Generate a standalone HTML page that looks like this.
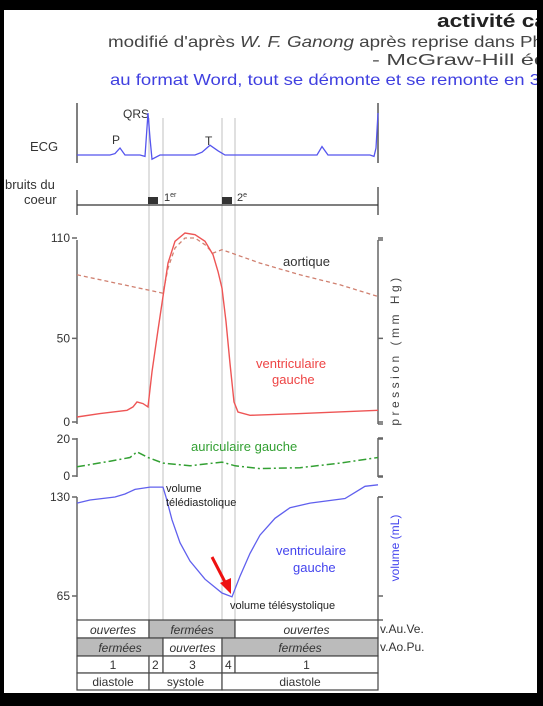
<!DOCTYPE html>
<html><head><meta charset="utf-8"><style>
html,body{margin:0;padding:0;background:#000;}
svg{display:block;}
text{font-family:"Liberation Sans",sans-serif;}
</style></head><body>
<svg id="chart" width="543" height="706" viewBox="0 0 543 706">
<rect x="4" y="10" width="533" height="683" fill="#fff"/>
<text x="437" y="27" font-size="18" font-weight="bold" fill="#222" textLength="110" lengthAdjust="spacingAndGlyphs">activité ca</text>
<text x="108" y="47" font-size="16" fill="#444" textLength="435" lengthAdjust="spacingAndGlyphs">modifié d'après <tspan font-style="italic">W. F. Ganong</tspan> après reprise  dans Ph</text>
<text x="372" y="65" font-size="16" fill="#444" textLength="175" lengthAdjust="spacingAndGlyphs">- McGraw-Hill éd</text>
<text x="110" y="85" font-size="16" fill="#4040e0" textLength="430" lengthAdjust="spacingAndGlyphs">au format Word, tout se démonte et se remonte en 3</text>

<g stroke="#ccc" stroke-width="1.2">
<line x1="149" y1="118" x2="149" y2="690"/><line x1="163" y1="118" x2="163" y2="690"/>
<line x1="222" y1="118" x2="222" y2="690"/><line x1="235" y1="118" x2="235" y2="690"/>
</g>

<text x="30" y="151" font-size="13" fill="#333">ECG</text>
<line x1="77" y1="103" x2="77" y2="163" stroke="#555" stroke-width="1.5"/>
<line x1="378" y1="103" x2="378" y2="163" stroke="#555" stroke-width="1.5"/>
<text x="112" y="144" font-size="12" fill="#333">P</text>
<text x="123" y="118" font-size="12" fill="#333">QRS</text>
<text x="205" y="145" font-size="12" fill="#333">T</text>
<path id="ecg" fill="none" stroke="#5555ee" stroke-width="1.3"/>

<text x="5" y="189" font-size="13" fill="#333">bruits du</text>
<text x="24" y="204" font-size="13" fill="#333">coeur</text>
<line x1="77" y1="205" x2="378" y2="205" stroke="#333" stroke-width="1.2"/>
<line x1="77" y1="190" x2="77" y2="215" stroke="#333" stroke-width="1.2"/>
<line x1="378" y1="187" x2="378" y2="215" stroke="#333" stroke-width="1.2"/>
<rect x="148" y="197" width="10" height="7" fill="#333"/>
<rect x="222" y="197" width="10" height="7" fill="#333"/>
<text x="164" y="201" font-size="11" fill="#333">1<tspan font-size="7" dy="-4">er</tspan></text>
<text x="237" y="201" font-size="11" fill="#333">2<tspan font-size="7" dy="-4">e</tspan></text>

<g id="axes" stroke="#666" stroke-width="1.5" fill="none"></g>
<g id="ticklabels" font-size="12" fill="#333" text-anchor="end"></g>

<path id="aorta" fill="none" stroke="#d08070" stroke-width="1.3" stroke-dasharray="4,3"/>
<path id="lv" fill="none" stroke="#ee5555" stroke-width="1.4"/>
<path id="la" fill="none" stroke="#33a033" stroke-width="1.5" stroke-dasharray="8,3,2,3"/>
<path id="vol" fill="none" stroke="#6060ee" stroke-width="1.3"/>

<text x="283" y="266" font-size="13" fill="#333">aortique</text>
<text x="256" y="368" font-size="13" fill="#ee4444">ventriculaire</text>
<text x="272" y="384" font-size="13" fill="#ee4444">gauche</text>
<text x="191" y="451" font-size="13" fill="#33a033">auriculaire gauche</text>
<text x="166" y="492" font-size="11" fill="#222">volume</text>
<text x="166" y="506" font-size="11" fill="#222">télédiastolique</text>
<text x="276" y="555" font-size="13" fill="#4444ee">ventriculaire</text>
<text x="293" y="572" font-size="13" fill="#4444ee">gauche</text>
<text x="230" y="609" font-size="11" fill="#222">volume télésystolique</text>
<line x1="212" y1="557" x2="226" y2="584" stroke="#ee1111" stroke-width="3"/>
<polygon points="231,594 220,583 231,578" fill="#ee1111"/>

<text transform="translate(399,350) rotate(-90)" font-size="12" letter-spacing="3.5" fill="#444" text-anchor="middle">pression (mm Hg)</text>
<text transform="translate(399,548) rotate(-90)" font-size="12" fill="#4444ee" text-anchor="middle">volume (mL)</text>

<g id="table" font-size="12" fill="#333"></g>
<text x="380" y="633" font-size="12" fill="#333">v.Au.Ve.</text>
<text x="380" y="651" font-size="12" fill="#333">v.Ao.Pu.</text>

<g fill="#000">
<rect x="0" y="0" width="543" height="10"/><rect x="0" y="0" width="4" height="706"/>
<rect x="537" y="0" width="6" height="706"/><rect x="0" y="693" width="543" height="13"/>
</g>
</svg>
<script>
const ecgT = [77,110,115,120,125,140,145,148,150,152,160,195,202,210,218,225,310,317,322,328,370,374,376,378];
const ecgV = [0,0,1,5,0,0,-1,30,12,-3,0,0,2,7,3,0,0,0,6,0,0,-1,5,30];
const lvT = [77,100,127,133,137,143,148,152,158,163,168,175,185,195,205,213,218,222,226,230,234,238,250,300,378];
const lvP = [3,5,7,9,12,11,9,30,55,75,95,108,113,112,108,100,90,80,60,35,12,6,4,5,7];
const aoT = [77,163,168,175,185,195,205,213,222,260,300,340,378];
const aoP = [88,77,92,104,110,110,106,101,103,95,88,82,75];
const laT = [77,110,130,137,148,163,190,222,235,260,300,340,378];
const laP = [5,8,10,13,10,7,5.5,7.5,5.5,4,4.5,7,10];
const volT = [77,90,115,125,135,150,163,166,172,180,190,205,222,232,240,250,260,275,290,310,345,355,365,378];
const volV = [126,128,130,132,135,136.5,136.5,130,115,100,88,76,67,64.5,78,93,105,116,123,126,129,133,137,138];
const pTicks = [0,50,110], aTicks=[0,20], vTicks=[65,130];

const S='http://www.w3.org/2000/svg';
const yP=v=>422-v*(184/110), yA=v=>476-v*(37/20), yV=v=>497+(130-v)*(99/65), yE=v=>155-v*1.4;
function path(id,xs,ys,f){document.getElementById(id).setAttribute('d',xs.map((x,i)=>(i?'L':'M')+x+','+f(ys[i]).toFixed(1)).join(' '));}
path('ecg',ecgT,ecgV,yE);path('lv',lvT,lvP,yP);path('aorta',aoT,aoP,yP);path('la',laT,laP,yA);path('vol',volT,volV,yV);

const ax=document.getElementById('axes'), tl=document.getElementById('ticklabels');
function ln(g,x1,y1,x2,y2){const l=document.createElementNS(S,'line');l.setAttribute('x1',x1);l.setAttribute('y1',y1);l.setAttribute('x2',x2);l.setAttribute('y2',y2);g.appendChild(l);return l;}
function axis(ticks,f,top,bot,name){
 const l=ln(ax,77,top,77,bot);
 
 
 ln(ax,378,top,378,bot);ln(ax,378,top,383,top);ln(ax,378,bot,383,bot);
 ticks.forEach(t=>{const y=f(t);ln(ax,72,y,77,y);ln(ax,378,y,383,y);
  const tx=document.createElementNS(S,'text');tx.setAttribute('x',70);tx.setAttribute('y',y+4);tx.textContent=t;
  
  
  tl.appendChild(tx);});
}
axis(pTicks,yP,240,424,'pressure-axis');axis(aTicks,yA,438,477,'atrial-axis');axis(vTicks,yV,497,620,'volume-axis');

const rows=[
 {y:620,h:18,cells:[[77,149,'ouvertes',0,1],[149,235,'fermées',1,1],[235,378,'ouvertes',0,1]]},
 {y:638,h:18,cells:[[77,163,'fermées',1,1],[163,222,'ouvertes',0,1],[222,378,'fermées',1,1]]},
 {y:656,h:17,cells:[[77,149,'1',0,0],[149,163,'2',0,0],[163,222,'3',0,0],[222,235,'4',0,0],[235,378,'1',0,0]]},
 {y:673,h:17,cells:[[77,149,'diastole',0,0],[149,222,'systole',0,0],[222,378,'diastole',0,0]]}];
const tb=document.getElementById('table');
rows.forEach(r=>r.cells.forEach(c=>{
 const rc=document.createElementNS(S,'rect');
 rc.setAttribute('x',c[0]);rc.setAttribute('y',r.y);rc.setAttribute('width',c[1]-c[0]);rc.setAttribute('height',r.h);
 rc.setAttribute('fill',c[3]?'#bbb':'#fff');rc.setAttribute('stroke','#444');rc.setAttribute('stroke-width','1.2');
 tb.appendChild(rc);
 const t=document.createElementNS(S,'text');
 t.setAttribute('x',c[1]-c[0]<20?c[0]+3:(c[0]+c[1])/2);t.setAttribute('y',r.y+r.h-4);
 if(c[1]-c[0]>=20)t.setAttribute('text-anchor','middle');
 if(c[4])t.setAttribute('font-style','italic');
 t.textContent=c[2];
 
 
 tb.appendChild(t);
}));
</script>
</body></html>
